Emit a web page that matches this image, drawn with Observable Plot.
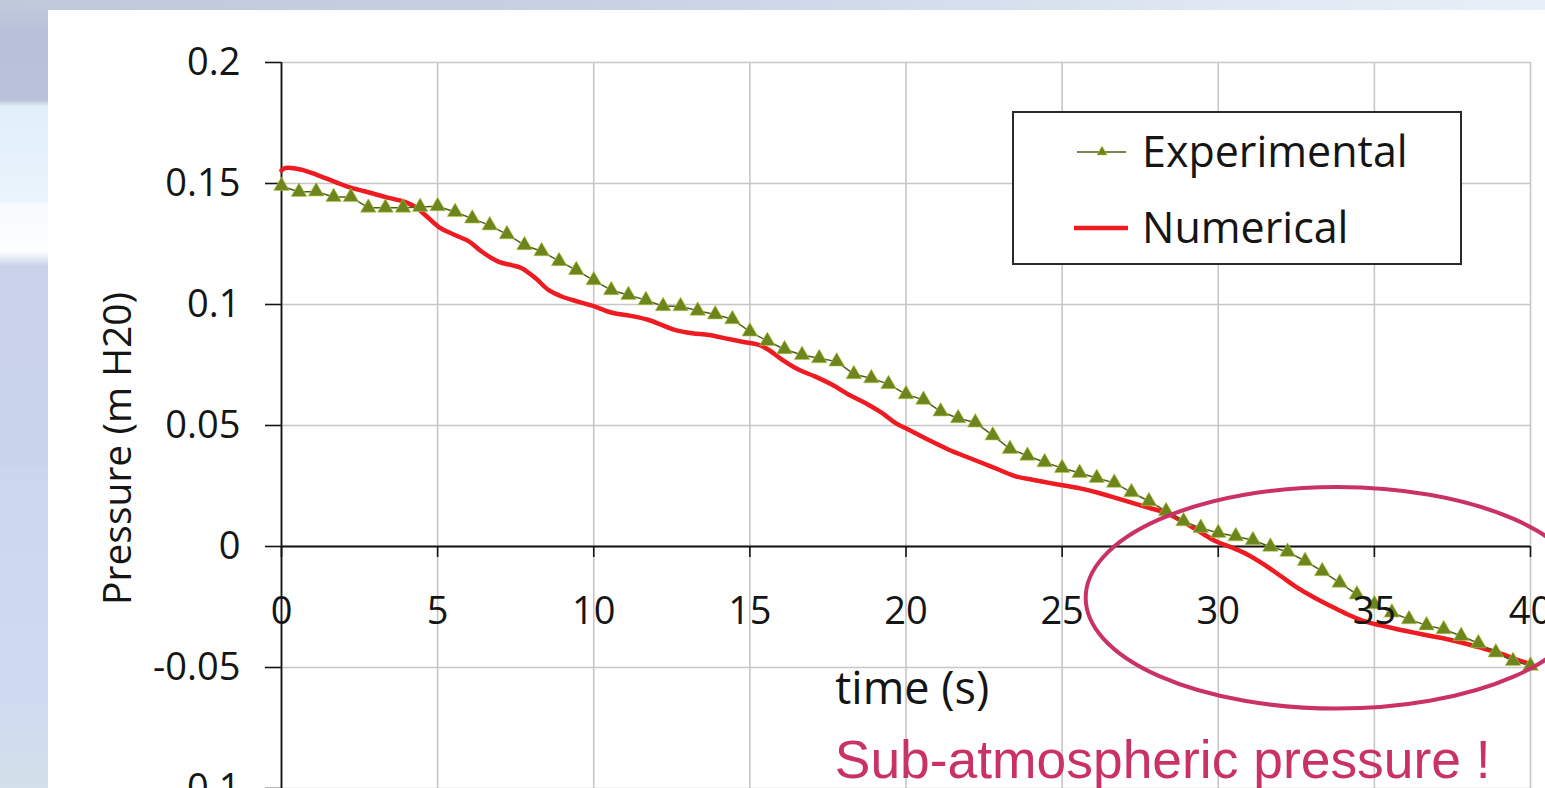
<!DOCTYPE html>
<html>
<head>
<meta charset="utf-8">
<script src="https://cdn.jsdelivr.net/npm/d3@7"></script>
<script src="https://cdn.jsdelivr.net/npm/@observablehq/plot@0.6"></script>
<style>
  html, body { margin: 0; padding: 0; width: 1545px; height: 788px; overflow: hidden; background: #fff; }
  #bgLeft { position: absolute; left: 0; top: 0; width: 48px; height: 788px;
    background: linear-gradient(to bottom, #c2cadd 0px, #b8c1d8 30px, #b9c2d9 100px, #e2eef9 106px, #e9f4fc 200px, #f8fbfe 206px, #fbfdff 252px, #c9d2e9 266px, #c8d2ea 460px, #cbd7ef 470px, #cfdbf0 700px, #d3dfe9 788px); }
  #bgTop { position: absolute; left: 0; top: 0; width: 1545px; height: 10px;
    background: linear-gradient(to right, #c0c8dc 0%, #c8d2e4 40%, #dfe8f3 80%, #e8eff8 100%); }
  #panel { position: absolute; left: 48px; top: 10px; width: 1497px; height: 778px; background: #fff; }
  #chart { position: absolute; left: 0; top: 0; }
  #legend { position: absolute; left: 1012px; top: 111px; width: 450px; height: 154px; box-sizing: border-box;
    border: 2px solid #2a2a2a; background: #fff; }
  #legend svg { position: absolute; left: -2px; top: -2px; }
</style>
</head>
<body>
<div id="bgLeft"></div>
<div id="bgTop"></div>
<div id="panel"></div>
<div id="chart"></div>
<div id="legend"></div>
<script>
// ---- data ----
const xTicks = [0, 5, 10, 15, 20, 25, 30, 35, 40];
const xTickLabels = ["0", "5", "10", "15", "20", "25", "30", "35", "40"];
const yTicks = [-0.1, -0.05, 0, 0.05, 0.1, 0.15, 0.2];
const yTickLabels = ["-0.1", "-0.05", "0", "0.05", "0.1", "0.15", "0.2"];

const seriesNames = ["Experimental", "Numerical"];

const expTime = [0, 0.56, 1.11, 1.67, 2.22, 2.78, 3.33, 3.89, 4.44, 5.00,
  5.56, 6.11, 6.67, 7.22, 7.78, 8.33, 8.89, 9.44, 10.00, 10.56,
  11.11, 11.67, 12.22, 12.78, 13.33, 13.89, 14.44, 15.00, 15.56, 16.11,
  16.67, 17.22, 17.78, 18.33, 18.89, 19.44, 20.00, 20.56, 21.11, 21.67,
  22.22, 22.78, 23.33, 23.89, 24.44, 25.00, 25.56, 26.11, 26.67, 27.22,
  27.78, 28.33, 28.89, 29.44, 30.00, 30.56, 31.11, 31.67, 32.22, 32.78,
  33.33, 33.89, 34.44, 35.00, 35.56, 36.11, 36.67, 37.22, 37.78, 38.33,
  38.89, 39.44, 40.00];
const expPressure = [0.149, 0.1465, 0.1467, 0.1444, 0.1444, 0.1400, 0.1400, 0.1400, 0.1403, 0.1406,
  0.1382, 0.1355, 0.1327, 0.1290, 0.1245, 0.1220, 0.1179, 0.1142, 0.1100, 0.1059,
  0.1039, 0.1018, 0.0993, 0.0993, 0.0974, 0.0959, 0.0939, 0.0888, 0.0849, 0.0815,
  0.0791, 0.0778, 0.0764, 0.0712, 0.0695, 0.0671, 0.0629, 0.0606, 0.0558, 0.0530,
  0.0512, 0.0459, 0.0403, 0.0375, 0.0348, 0.0324, 0.0304, 0.0283, 0.0263, 0.0224,
  0.0187, 0.0146, 0.0104, 0.0077, 0.0056, 0.0042, 0.0026, -0.0001, -0.0022, -0.0060,
  -0.0102, -0.0150, -0.0198, -0.0239, -0.0273, -0.0301, -0.0326, -0.0342, -0.0370, -0.0400,
  -0.0438, -0.0473, -0.0493];

const numTime = [0, 0.13, 0.61, 1.19, 1.73, 2.16, 2.69, 3.33, 3.97, 4.29,
  4.61, 5.04, 5.57, 6.00, 6.43, 6.96, 7.39, 7.71, 8.14, 8.56,
  8.99, 9.52, 10.06, 10.59, 11.23, 11.76, 12.19, 12.62, 13.15, 13.69,
  14.22, 14.76, 15.29, 15.61, 16.04, 16.57, 17.10, 17.64, 18.17, 18.71,
  19.24, 19.67, 20.09, 20.63, 21.37, 21.91, 22.44, 22.98, 23.51, 24.05,
  24.58, 25.11, 25.65, 26.18, 26.71, 27.25, 27.78, 28.32, 28.85, 29.38,
  29.92, 30.45, 30.93, 31.46, 32.00, 32.53, 33.07, 33.60, 34.13, 34.67,
  35.20, 35.74, 36.27, 36.80, 37.34, 37.87, 38.40, 38.94, 39.47, 40.00];
const numPressure = [0.1554, 0.1564, 0.1558, 0.1533, 0.1506, 0.1485, 0.1467, 0.1444, 0.1423, 0.1403,
  0.1369, 0.1320, 0.1286, 0.1261, 0.1217, 0.1176, 0.1162, 0.1149, 0.1108, 0.1059,
  0.1032, 0.1011, 0.0990, 0.0966, 0.0952, 0.0936, 0.0915, 0.0894, 0.0881, 0.0874,
  0.0860, 0.0846, 0.0833, 0.0812, 0.0771, 0.0730, 0.0702, 0.0668, 0.0627, 0.0592,
  0.0551, 0.0510, 0.0482, 0.0446, 0.0400, 0.0372, 0.0345, 0.0317, 0.0290, 0.0276,
  0.0263, 0.0251, 0.0238, 0.0221, 0.0201, 0.0180, 0.0160, 0.0139, 0.0104, 0.0063,
  0.0022, -0.0005, -0.0033, -0.0074, -0.0122, -0.0170, -0.0211, -0.0246, -0.0280, -0.0308,
  -0.0326, -0.0342, -0.0356, -0.0370, -0.0383, -0.0400, -0.0418, -0.0438, -0.0463, -0.0486];

// annotation placements (data units)
const xTitle = "time (s)";
const yTitle = "Pressure (m H20)";
const xTitleAt = {t: 20.2, p: -0.059};
const noteText = "Sub-atmospheric pressure !";
const noteAt = {t: 17.72, p: -0.0885};
const ellipseAt = {t: 33.82, p: -0.0214, rt: 8.05, rp: 0.0458};

// ---- build ----
const experimental = expTime.map((t, i) => ({t, p: expPressure[i]}));
const numerical = numTime.map((t, i) => ({t, p: numPressure[i]}));

const FONT = "'Open Sans', 'DejaVu Sans', sans-serif";
const RED = "#ee1c22";
const OLIVE_LINE = "#4e5c1c";
const OLIVE_FILL = "#6c861d";
const PINK = "#c93263";

const plot = Plot.plot({
  width: 1545, height: 788,
  marginLeft: 281, marginRight: 15, marginTop: 62, marginBottom: 0,
  style: {background: "transparent", fontFamily: FONT, color: "#151515", overflow: "visible"},
  x: {domain: [0, 40], axis: null},
  y: {domain: [-0.1, 0.2], axis: null},
  marks: [
    Plot.gridX(xTicks, {stroke: "#c6c6c6", strokeOpacity: 1, strokeWidth: 1.6}),
    Plot.gridY(yTicks, {stroke: "#c6c6c6", strokeOpacity: 1, strokeWidth: 1.6}),
    Plot.axisY({ticks: yTicks, tickSize: 16, tickPadding: 25, fontSize: 38, strokeWidth: 1.6,
      tickFormat: d => yTickLabels[yTicks.indexOf(d)], label: null}),
    Plot.ruleY([0], {stroke: "#151515", strokeWidth: 1.8}),
    Plot.ruleX(xTicks, {x: d => d, y1: 0, y2: 0, insetBottom: -11, stroke: "#151515", strokeWidth: 1.6}),
    Plot.ruleX([0], {stroke: "#151515", strokeWidth: 1.8}),
    Plot.line(numerical, {x: "t", y: "p", stroke: RED, strokeWidth: 4.5, curve: "catmull-rom"}),
    Plot.line(experimental, {x: "t", y: "p", stroke: OLIVE_LINE, strokeWidth: 1.5}),
    Plot.dot(experimental, {x: "t", y: "p", symbol: "triangle", r: 5.8, fill: OLIVE_FILL, stroke: "#b9c743", strokeWidth: 0.6}),
    Plot.text(xTicks, {x: d => d, y: 0, dy: 65, text: d => xTickLabels[xTicks.indexOf(d)], fontSize: 38, fill: "#151515"}),
    Plot.text([xTitle], {x: () => xTitleAt.t, y: () => xTitleAt.p, text: d => d, fontSize: 45, fill: "#151515"}),
    Plot.text([yTitle], {frameAnchor: "left", textAnchor: "middle", dx: -163, dy: 23, rotate: -90, text: d => d, fontSize: 39, fill: "#151515"}),
    Plot.text([noteText], {x: () => noteAt.t, y: () => noteAt.p, text: d => d, textAnchor: "start",
      fontSize: 53.4, fontFamily: "'Liberation Sans', Arial, sans-serif", fill: PINK})
  ]
});

// annotation ellipse positioned through the plot's own scales
const sx = plot.scale("x"), sy = plot.scale("y");
const cx = sx.apply(ellipseAt.t), cy = sy.apply(ellipseAt.p);
const rx = sx.apply(ellipseAt.t + ellipseAt.rt) - cx;
const ry = sy.apply(ellipseAt.p - ellipseAt.rp) - cy;
d3.select(plot).append("ellipse")
  .attr("cx", cx).attr("cy", cy).attr("rx", rx).attr("ry", ry)
  .attr("fill", "none").attr("stroke", PINK).attr("stroke-width", 4);

document.getElementById("chart").appendChild(plot);

// legend
const lg = d3.select("#legend").append("svg").attr("width", 450).attr("height", 154)
  .style("font-family", FONT);
// Experimental
lg.append("line").attr("x1", 65).attr("x2", 114).attr("y1", 41).attr("y2", 41)
  .attr("stroke", OLIVE_LINE).attr("stroke-width", 1.5);
lg.append("path").attr("d", d3.symbol(d3.symbolTriangle, 45)())
  .attr("transform", "translate(90,41)").attr("fill", OLIVE_FILL).attr("stroke", "#b9c743").attr("stroke-width", 0.6);
lg.append("text").attr("x", 130).attr("y", 41).attr("dy", "0.36em").attr("font-size", 43)
  .attr("fill", "#151515").text(seriesNames[0]);
// Numerical
lg.append("line").attr("x1", 62).attr("x2", 116).attr("y1", 117).attr("y2", 117)
  .attr("stroke", RED).attr("stroke-width", 4.5);
lg.append("text").attr("x", 130).attr("y", 117).attr("dy", "0.36em").attr("font-size", 43)
  .attr("fill", "#151515").text(seriesNames[1]);
</script>
</body>
</html>
